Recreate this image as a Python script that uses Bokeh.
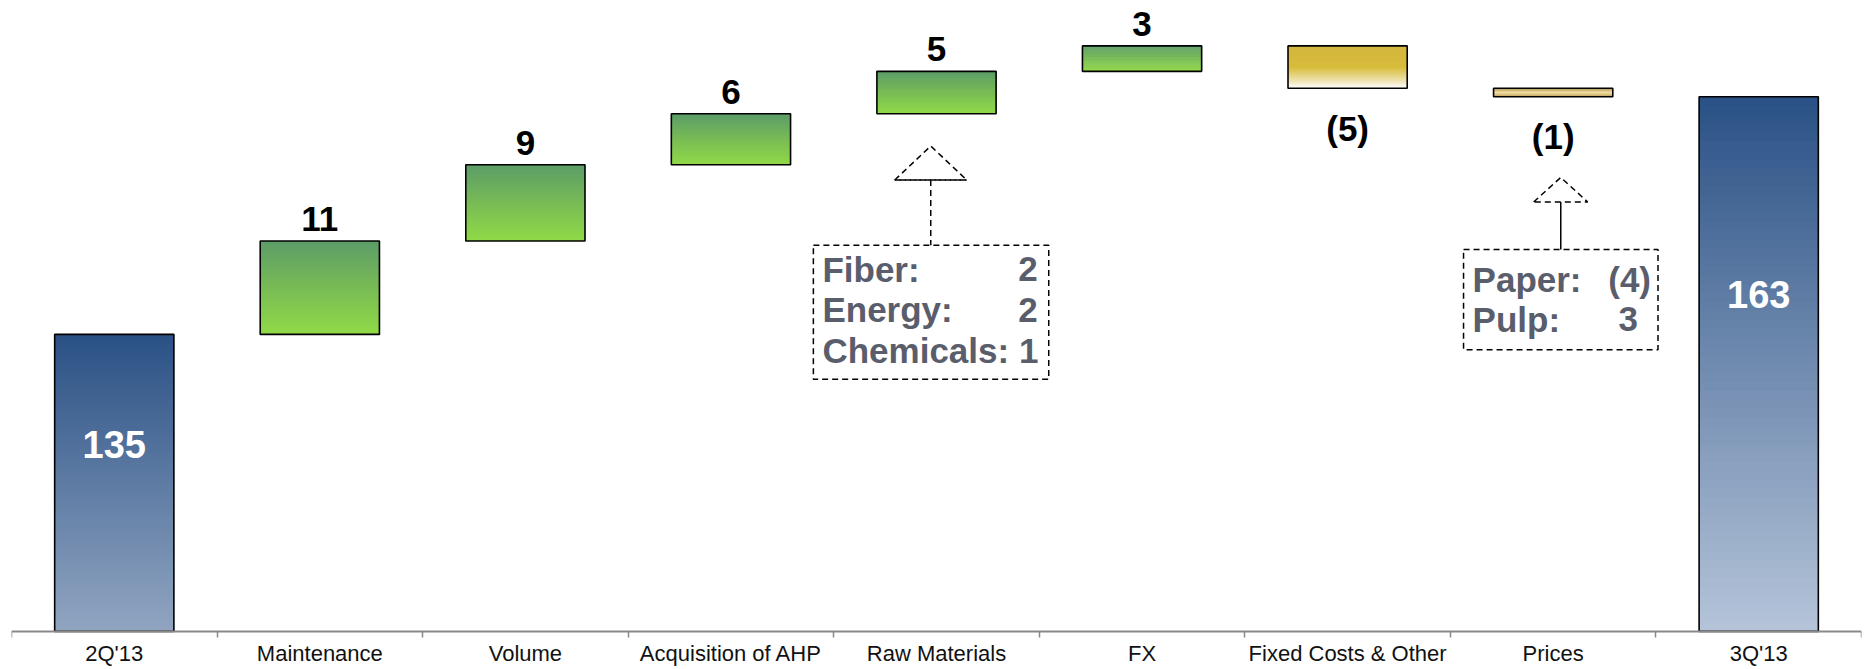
from bokeh.plotting import figure
from bokeh.models import FixedTicker, Range1d, ColumnDataSource
from bokeh.core.properties import value
from bokeh.embed import file_html
from bokeh.resources import INLINE

categories = ["2Q'13", "Maintenance", "Volume", "Acquisition of AHP", "Raw Materials",
              "FX", "Fixed Costs & Other", "Prices", "3Q'13"]
values = [135, 11, 9, 6, 5, 3, -5, -1, 163]
kinds = ["total", "up", "up", "up", "up", "up", "down", "down_small", "total"]
labels = ["135", "11", "9", "6", "5", "3", "(5)", "(1)", "163"]

raw_names = ["Fiber:", "Energy:", "Chemicals: 1"]
raw_vals = ["2", "2", ""]
price_names = ["Paper:", "Pulp:"]
price_vals = ["(4)", "3"]

AXIS_START = 100
FONT = "Liberation Sans"


def hex2rgb(h):
    h = h.lstrip("#")
    return tuple(int(h[i:i + 2], 16) for i in (0, 2, 4))


def interp(stops, f):
    for (f0, c0), (f1, c1) in zip(stops[:-1], stops[1:]):
        if f <= f1:
            t = 0 if f1 == f0 else (f - f0) / (f1 - f0)
            a, b = hex2rgb(c0), hex2rgb(c1)
            return "#%02x%02x%02x" % tuple(int(round(a[k] + (b[k] - a[k]) * t)) for k in range(3))
    return stops[-1][1]


gradients = {
    "up": [(0, "#5c9c68"), (0.5, "#78bb55"), (1, "#90da47")],
    "down": [(0, "#d2b63e"), (0.5, "#d7bb3a"), (0.8, "#ece0a8"), (1, "#ffffff")],
    "down_small": [(0, "#a8843c"), (0.5, "#f0dc98"), (1, "#b8954a")],
}
total_grads = [[(0, "#2a5185"), (1, "#91a5c1")], [(0, "#2a5185"), (1, "#b5c4d9")]]

# compute waterfall extents
bottoms, tops = [], []
run = 0
for v, k in zip(values, kinds):
    if k == "total":
        bottoms.append(AXIS_START)
        tops.append(v)
        run = v
    else:
        lo, hi = sorted([run, run + v])
        bottoms.append(lo)
        tops.append(hi)
        run += v

centers = [i + 0.5 for i in range(len(categories))]
half = 0.29

p = figure(width=1862, height=667, x_range=Range1d(0, 9), y_range=Range1d(95.74, 174.35),
           output_backend="svg", toolbar_location=None,
           min_border_left=11, min_border_right=1, min_border_top=0, min_border_bottom=0)
p.yaxis.visible = False
p.grid.visible = False
p.outline_line_color = None
p.background_fill_color = "white"

ax = p.xaxis[0]
ax.fixed_location = AXIS_START
ax.ticker = FixedTicker(ticks=centers, minor_ticks=list(range(len(categories) + 1)))
ax.major_label_overrides = {c: n for c, n in zip(centers, categories)}
ax.major_tick_line_color = None
ax.major_tick_out = 6
ax.major_tick_in = 0
ax.major_label_standoff = 4
ax.minor_tick_out = 6
ax.minor_tick_in = 0
ax.minor_tick_line_color = "#898989"
ax.minor_tick_line_width = 1.5
ax.axis_line_color = "#898989"
ax.axis_line_width = 2
ax.major_label_text_font = FONT
ax.major_label_text_font_size = "22px"
ax.major_label_text_color = "#111111"

# gradient strips (overlapping slightly to avoid seams)
N = 60
L, R, B, T, C = [], [], [], [], []
ti = 0
for i, k in enumerate(kinds):
    if k == "total":
        stops = total_grads[ti]
        ti += 1
    else:
        stops = gradients[k]
    b, t = bottoms[i], tops[i]
    h = (t - b) / N
    for j in range(N):
        f = (j + 0.5) / N
        L.append(centers[i] - half)
        R.append(centers[i] + half)
        T.append(t - h * j)
        B.append(max(b, t - h * (j + 2.0)))
        C.append(interp(stops, f))
p.quad(left="l", right="r", bottom="b", top="t", fill_color="c", line_color=None,
       source=ColumnDataSource(dict(l=L, r=R, b=B, t=T, c=C)))

bars = ColumnDataSource(dict(l=[c - half for c in centers], r=[c + half for c in centers],
                             b=bottoms, t=tops))
p.quad(left="l", right="r", bottom="b", top="t", fill_color=None, line_color="black",
       line_width=1.6, source=bars)

# value labels
up_x, up_y, up_t = [], [], []
dn_x, dn_y, dn_t = [], [], []
tot_x, tot_y, tot_t = [], [], []
for i, k in enumerate(kinds):
    if k == "total":
        tot_x.append(centers[i]); tot_y.append(tops[i] - 0.37 * (tops[i] - AXIS_START)); tot_t.append(labels[i])
    elif k == "up":
        up_x.append(centers[i]); up_y.append(tops[i]); up_t.append(labels[i])
    else:
        dn_x.append(centers[i]); dn_y.append(bottoms[i]); dn_t.append(labels[i])

p.text(x=up_x, y=up_y, text=up_t, text_font=value(FONT), text_font_style="bold",
       text_font_size="35px", text_align="center", text_baseline="middle", y_offset=-22,
       text_color="black")
p.text(x=dn_x, y=dn_y, text=dn_t, text_font=value(FONT), text_font_style="bold",
       text_font_size="35px", text_align="center", text_baseline="middle", y_offset=40,
       text_color="black")
p.text(x=tot_x, y=tot_y, text=tot_t, text_font=value(FONT), text_font_style="bold",
       text_font_size="38px", text_align="center", text_baseline="middle",
       text_color="white")

# annotation callouts
dash = "6 4"
p.patch(x=[4.297, 4.472, 4.647], y=[153.2, 157.2, 153.2], fill_color=None, line_color="black",
        line_width=1.5, line_dash=dash)
p.line(x=[4.297, 4.647], y=[153.2, 153.2], line_color="black", line_width=1.5, line_dash=dash)
p.line(x=[4.472, 4.472], y=[153.2, 145.5], line_color="black", line_width=1.5, line_dash=dash)
p.quad(left=[3.901], right=[5.046], bottom=[129.7], top=[145.5], fill_color=None,
       line_color="black", line_width=1.5, line_dash=dash)
ann_col = "#5a5e6c"
ry = [142.7, 137.9, 133.1]
p.text(x=[3.945] * 3, y=ry, text=raw_names, text_font=value(FONT), text_font_style="bold",
       text_font_size="35px", text_align="left", text_baseline="middle", text_color=ann_col)
p.text(x=[4.993] * 3, y=ry, text=raw_vals, text_font=value(FONT), text_font_style="bold",
       text_font_size="35px", text_align="right", text_baseline="middle", text_color=ann_col)

p.patch(x=[7.405, 7.537, 7.668], y=[150.6, 153.5, 150.6], fill_color=None, line_color="black",
        line_width=1.5, line_dash=dash)
p.line(x=[7.537, 7.537], y=[150.6, 145.0], line_color="black", line_width=1.5)
p.quad(left=[7.064], right=[8.010], bottom=[133.2], top=[145.0], fill_color=None,
       line_color="black", line_width=1.5, line_dash=dash)
py = [141.5, 136.8]
p.text(x=[7.108] * 2, y=py, text=price_names, text_font=value(FONT), text_font_style="bold",
       text_font_size="35px", text_align="left", text_baseline="middle", text_color=ann_col)
p.text(x=[7.976, 7.912], y=py, text=price_vals, text_font=value(FONT), text_font_style="bold",
       text_font_size="35px", text_align="right", text_baseline="middle", text_color=ann_col)

open("out.html", "w").write(file_html(p, INLINE))
